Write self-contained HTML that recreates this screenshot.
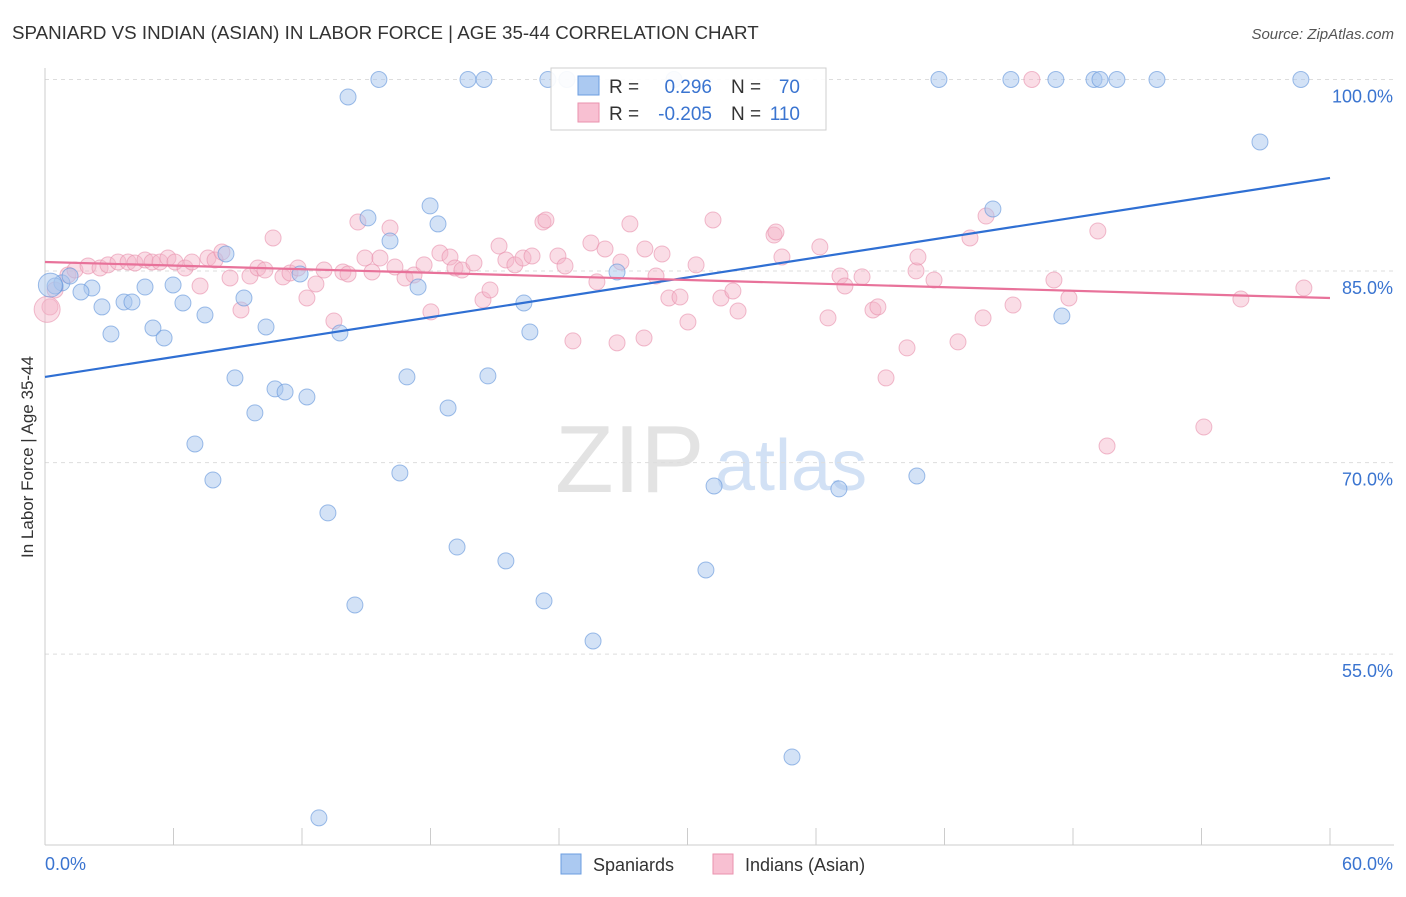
<!DOCTYPE html>
<html><head><meta charset="utf-8"><style>
body{margin:0;background:#fff;font-family:"Liberation Sans",sans-serif;}
svg text{font-family:"Liberation Sans",sans-serif;}
</style></head><body>
<svg id="chart" width="1406" height="892" xmlns="http://www.w3.org/2000/svg">
<text x="12" y="39" font-size="18.75" fill="#333">SPANIARD VS INDIAN (ASIAN) IN LABOR FORCE | AGE 35-44 CORRELATION CHART</text>
<text x="1394" y="39" font-size="15" fill="#555" text-anchor="end" font-style="italic">Source: ZipAtlas.com</text>
<text x="33" y="457" font-size="17" fill="#333" text-anchor="middle" transform="rotate(-90 33 457)">In Labor Force | Age 35-44</text>
<g><text x="555" y="492" font-size="96" fill="#ddd" font-family="Liberation Serif" opacity="0.8">ZIP</text><text x="715" y="490" font-size="72" fill="#c8daf3" opacity="0.8">atlas</text></g>
<g id="grid"></g><g id="axes"></g><g id="trends"></g><g id="dots"></g>
<g>
<rect x="551" y="68" width="275" height="62" fill="#fff" stroke="#ccc" opacity="0.92"/>
<rect x="578" y="76" width="21" height="19" fill="#abc9f1" stroke="#6b9de0"/>
<rect x="578" y="103" width="21" height="19" fill="#f8c0d2" stroke="#ea92ae"/>
<text x="609" y="93" font-size="19" fill="#333">R = </text><text x="712" y="93" font-size="19" fill="#3a74d0" text-anchor="end">0.296</text>
<text x="731" y="93" font-size="19" fill="#333">N = </text><text x="800" y="93" font-size="19" fill="#3a74d0" text-anchor="end">70</text>
<text x="609" y="120" font-size="19" fill="#333">R = </text><text x="712" y="120" font-size="19" fill="#3a74d0" text-anchor="end">-0.205</text>
<text x="731" y="120" font-size="19" fill="#333">N = </text><text x="800" y="120" font-size="19" fill="#3a74d0" text-anchor="end">110</text>
</g>
<g>
<rect x="561" y="854" width="20" height="20" fill="#abc9f1" stroke="#6b9de0"/>
<text x="593" y="871" font-size="18" fill="#333">Spaniards</text>
<rect x="713" y="854" width="20" height="20" fill="#f8c0d2" stroke="#ea92ae"/>
<text x="745" y="871" font-size="18" fill="#333">Indians (Asian)</text>
</g>
</svg>
<script>
const yTicks=[100,85,70,55];
const yTickLabels=["100.0%","85.0%","70.0%","55.0%"];
const xTickLabels=["0.0%","60.0%"];
const blueX=[15.59,19.75,20.50,23.48,24.37,29.37,41.74,45.10,47.20,48.98,49.26,50.05,51.92,58.64,14.15,56.73,44.26,17.98,18.35,15.08,16.11,8.45,0.79,1.17,2.19,1.68,4.67,5.98,2.66,3.69,4.06,6.44,7.47,9.29,11.91,17.42,22.36,26.71,47.48,3.08,5.04,5.56,10.32,13.77,22.64,8.87,10.74,11.21,12.23,16.90,20.68,18.82,9.80,7.00,7.84,16.57,31.24,37.07,40.71,13.21,19.24,21.52,30.86,14.47,23.30,25.59,34.88,12.79,0.47,0.25];
const blueY=[100,100,100,100,100,100,100,100,100,100,100,100,100,100,98.63,95.11,89.86,90.10,88.69,89.16,87.35,86.34,84.07,84.61,83.67,83.36,83.75,83.91,82.19,82.58,82.58,82.50,81.56,82.89,84.77,83.75,82.50,84.93,81.48,80.07,80.54,79.76,80.62,80.15,80.23,76.63,75.77,75.53,75.14,76.71,76.79,74.28,73.89,71.46,68.64,69.19,68.17,67.94,68.95,66.06,63.39,62.30,61.59,58.85,59.17,56.03,46.95,42.18,83.83,83.9];
const pinkX=[0.23,0.47,1.07,1.40,2.01,2.57,2.94,3.41,3.88,4.20,4.67,5.00,5.37,5.74,6.07,6.54,6.86,7.24,7.61,7.94,8.26,8.64,9.15,9.57,9.94,10.27,10.65,11.11,11.44,11.81,12.23,12.65,13.03,13.49,13.91,14.15,14.61,14.94,15.27,15.64,16.11,16.34,16.81,17.23,17.70,18.02,18.44,18.91,19.14,19.47,20.03,20.45,20.78,21.20,21.52,21.94,22.32,22.74,23.25,23.39,23.95,24.28,24.65,25.49,25.77,26.15,26.71,26.89,27.31,27.97,28.01,28.53,28.81,29.13,29.65,30.02,30.40,31.19,31.56,32.12,32.36,34.04,34.13,34.41,36.18,36.56,37.12,37.35,38.15,38.66,38.89,40.25,39.27,40.67,40.76,41.51,42.63,43.19,43.80,43.94,45.20,46.08,47.11,47.81,49.16,49.59,54.11,55.84,58.78,0.1];
const pinkY=[82.19,83.52,84.69,85.08,85.40,85.24,85.48,85.71,85.71,85.63,85.87,85.71,85.71,86.02,85.71,85.24,85.71,83.83,86.02,85.87,86.49,84.46,81.95,84.61,85.24,85.08,87.59,84.54,84.85,85.24,82.89,83.99,85.08,81.09,84.93,84.77,88.84,86.02,84.93,86.02,88.37,85.32,84.46,84.69,85.48,81.80,86.41,86.10,85.24,85.08,85.63,82.74,83.52,86.96,85.87,85.48,86.02,86.18,88.84,89.00,86.18,85.40,79.53,87.20,84.15,86.73,79.38,85.71,88.69,79.76,86.73,84.61,86.34,82.89,82.97,81.01,85.48,89.00,82.89,83.44,81.87,87.82,88.06,86.10,86.89,81.33,84.61,83.83,84.54,81.95,82.19,78.98,76.63,85.01,86.10,84.30,79.45,87.59,81.33,89.31,82.34,100,84.30,82.89,88.14,71.30,72.79,82.81,83.67,82.0];
const blueTrendY=[76.71,92.29];
const pinkTrendY=[85.71,82.89];
const trendX=[0,60];
const X0=45,X1=1330,Y100=79.5,PX=12.77;
const sx=v=>X0+(v/60)*(X1-X0);
const sy=v=>Y100+(100-v)*PX;
const NS="http://www.w3.org/2000/svg";
function mk(tag,attrs,parent){const e=document.createElementNS(NS,tag);for(const k in attrs)e.setAttribute(k,attrs[k]);parent.appendChild(e);return e;}
const grid=document.getElementById('grid'),axes=document.getElementById('axes');
yTicks.forEach((t,i)=>{
 const l=mk('line',{x1:X0,x2:1394,y1:sy(t),y2:sy(t),stroke:'#ddd','stroke-dasharray':'4,4'},grid);
 
 
 const tx=mk('text',{x:1393,y:sy(t)+23,'font-size':18,fill:'#3a74d0','text-anchor':'end'},axes);
 tx.textContent=yTickLabels[i];
 
 
});
const ax=mk('line',{x1:X0,x2:1394,y1:845,y2:845,stroke:'#ccc'},axes);


const ay=mk('line',{x1:X0,x2:X0,y1:68,y2:845,stroke:'#ccc'},axes);


for(let i=0;i<=10;i++){const tk=mk('line',{x1:sx(i*6),x2:sx(i*6),y1:828,y2:845,stroke:'#ccc'},axes);
 
 }
const xl0=mk('text',{x:45,y:870,'font-size':18,fill:'#3a74d0'},axes);xl0.textContent=xTickLabels[0];


const xl1=mk('text',{x:1393,y:870,'font-size':18,fill:'#3a74d0','text-anchor':'end'},axes);xl1.textContent=xTickLabels[1];


const dots=document.getElementById('dots');
pinkX.forEach((v,i)=>{const c=mk('circle',{cx:sx(v),cy:sy(pinkY[i]),r:i==pinkX.length-1?13:8,fill:'#f5b3c8','fill-opacity':0.45,stroke:'#e88fab','stroke-opacity':0.6},dots);
 
 });
blueX.forEach((v,i)=>{const c=mk('circle',{cx:sx(v),cy:sy(blueY[i]),r:i==blueX.length-1?12:8,fill:'#a7c5ee','fill-opacity':0.5,stroke:'#5f93db','stroke-opacity':0.6},dots);
 
 });
const tr=document.getElementById('trends');
const bl=mk('line',{x1:sx(trendX[0]),y1:sy(blueTrendY[0]),x2:sx(trendX[1]),y2:sy(blueTrendY[1]),stroke:'#2f6fd3','stroke-width':2.2},tr);


const pl=mk('line',{x1:sx(trendX[0]),y1:sy(pinkTrendY[0]),x2:sx(trendX[1]),y2:sy(pinkTrendY[1]),stroke:'#e8729a','stroke-width':2.2},tr);


document.getElementById('chart').appendChild(tr);
</script>
</body></html>
